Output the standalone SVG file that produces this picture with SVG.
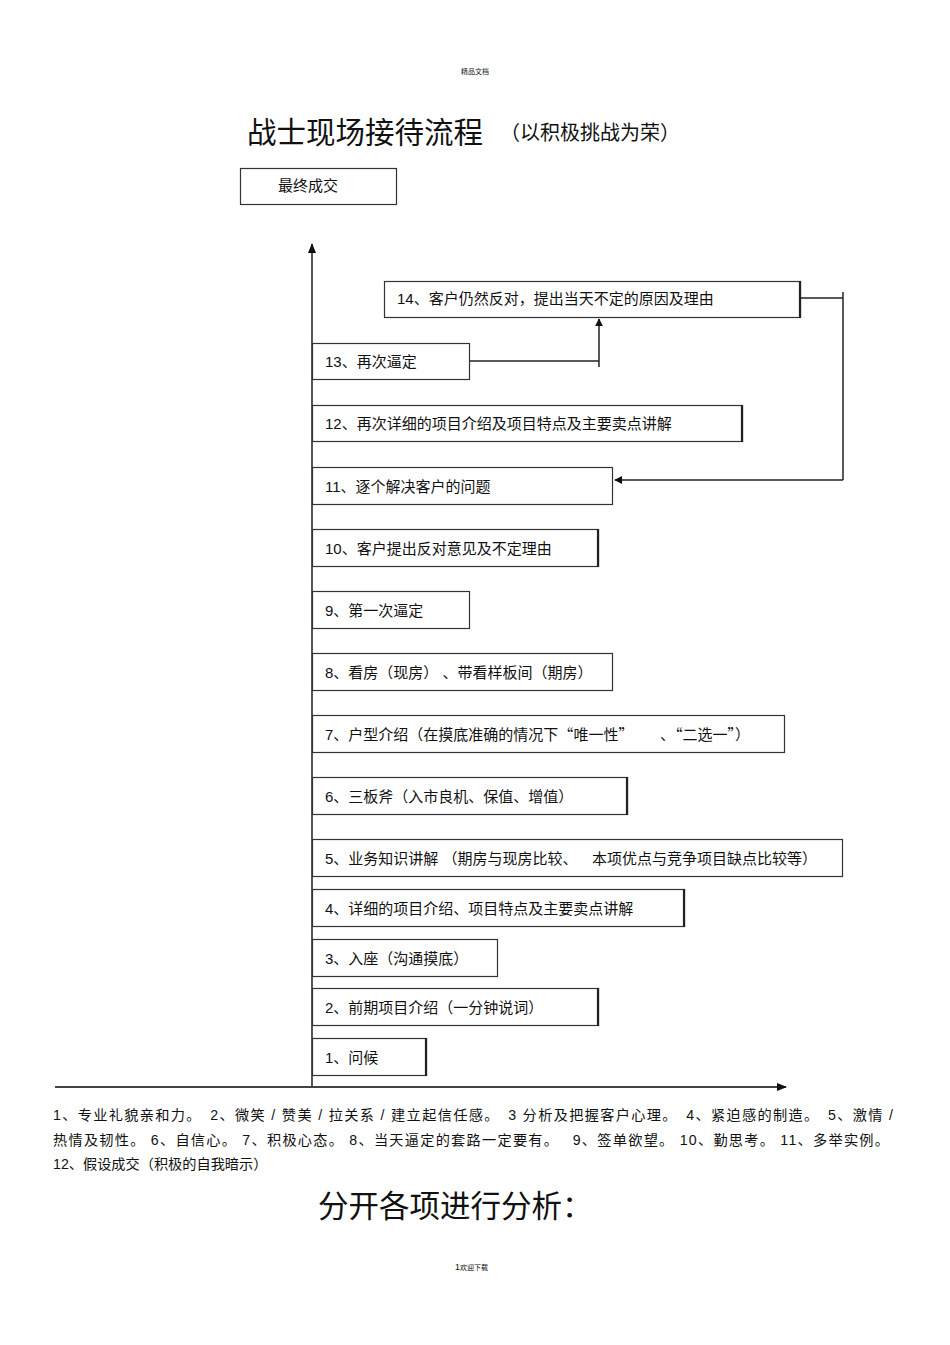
<svg xmlns="http://www.w3.org/2000/svg" width="950" height="1345" viewBox="0 0 950 1345">
<style>
text{font-family:"Liberation Sans","Noto Sans CJK SC",sans-serif;fill:#111}
.b{fill:#fff;stroke:#333;stroke-width:1.2}
.r{stroke:#222;stroke-width:2.2}
.t{font-size:15px}
.q{font-family:"Noto Sans CJK SC",sans-serif}
.ln{stroke:#222;stroke-width:1.5;fill:none}
.ax{stroke:#444;stroke-width:1.8;fill:none}
.n{font-size:14.2px}
</style>
<defs>
<marker id="ah" viewBox="0 0 10 10" refX="9" refY="5" markerWidth="8" markerHeight="8" markerUnits="userSpaceOnUse" orient="auto"><path d="M0,0L10,5L0,10z" fill="#111"/></marker>
<marker id="ah2" viewBox="0 0 10 10" refX="9" refY="5" markerWidth="10" markerHeight="10" markerUnits="userSpaceOnUse" orient="auto"><path d="M0,1L10,5L0,9z" fill="#111"/></marker>
</defs>
<rect width="950" height="1345" fill="#fff"/>
<text x="475" y="74" font-size="7" text-anchor="middle">精品文档</text>
<text x="247" y="143" font-size="29.5">战士现场接待流程</text>
<text x="500" y="140" font-size="20">（以积极挑战为荣）</text>

<g id="connectors">
<line class="ax" x1="312" y1="1088" x2="312" y2="244" marker-end="url(#ah2)"/>
<line class="ax" x1="55" y1="1087" x2="786" y2="1087" marker-end="url(#ah2)"/>
<polyline class="ln" points="470,361 599,361"/>
<line class="ln" x1="599" y1="367" x2="599" y2="319" marker-end="url(#ah)"/>
<polyline class="ln" points="801,298 843,298"/>
<line class="ln" x1="843" y1="292" x2="843" y2="480"/>
<line class="ln" x1="843" y1="480" x2="615" y2="480" marker-end="url(#ah)"/>
</g>

<g id="n-final"><rect class="b" x="240.5" y="168.5" width="156" height="36"/><text class="t" x="278" y="191">最终成交</text></g>
<g id="n14"><rect class="b" x="384.5" y="281.5" width="416" height="36"/><line class="r" x1="800" y1="281" x2="800" y2="318"/><text class="t" x="397" y="304">14、客户仍然反对，提出当天不定的原因及理由</text></g>
<g id="n13"><rect class="b" x="312.5" y="343.5" width="157" height="36"/><text class="t" x="325" y="367">13、再次逼定</text></g>
<g id="n12"><rect class="b" x="312.5" y="405.5" width="430" height="36"/><line class="r" x1="742" y1="405" x2="742" y2="442"/><text class="t" x="325" y="429">12、再次详细的项目介绍及项目特点及主要卖点讲解</text></g>
<g id="n11"><rect class="b" x="312.5" y="467.5" width="300" height="37"/><text class="t" x="325" y="492">11、逐个解决客户的问题</text></g>
<g id="n10"><rect class="b" x="312.5" y="529.5" width="286" height="37"/><line class="r" x1="598" y1="529" x2="598" y2="567"/><text class="t" x="325" y="554">10、客户提出反对意见及不定理由</text></g>
<g id="n9"><rect class="b" x="312.5" y="591.5" width="157" height="37"/><text class="t" x="325" y="616">9、第一次逼定</text></g>
<g id="n8"><rect class="b" x="312.5" y="653.5" width="300" height="37"/><text class="t" x="325" y="678">8、看房（现房） 、带看样板间（期房）</text></g>
<g id="n7"><rect class="b" x="312.5" y="715.5" width="472" height="37"/><text class="t" x="325" y="740">7、户型介绍（在摸底准确的情况下<tspan class="q">“</tspan>唯一性<tspan class="q">”</tspan></text><text class="t" x="660" y="740">、<tspan class="q">“</tspan>二选一<tspan class="q">”</tspan>）</text></g>
<g id="n6"><rect class="b" x="312.5" y="777.5" width="315" height="37"/><line class="r" x1="627" y1="777" x2="627" y2="815"/><text class="t" x="325" y="802">6、三板斧（入市良机、保值、增值）</text></g>
<g id="n5"><rect class="b" x="312.5" y="839.5" width="530" height="37"/><text class="t" x="325" y="864">5、业务知识讲解 （期房与现房比较、</text><text class="t" x="592" y="864">本项优点与竞争项目缺点比较等）</text></g>
<g id="n4"><rect class="b" x="312.5" y="889.5" width="372" height="37"/><line class="r" x1="684" y1="889" x2="684" y2="927"/><text class="t" x="325" y="914">4、详细的项目介绍、项目特点及主要卖点讲解</text></g>
<g id="n3"><rect class="b" x="312.5" y="939.5" width="185" height="37"/><text class="t" x="325" y="964">3、入座（沟通摸底）</text></g>
<g id="n2"><rect class="b" x="312.5" y="988.5" width="286" height="37"/><line class="r" x1="598" y1="988" x2="598" y2="1026"/><text class="t" x="325" y="1013">2、前期项目介绍（一分钟说词）</text></g>
<g id="n1"><rect class="b" x="312.5" y="1038.5" width="114" height="37"/><line class="r" x1="426" y1="1038" x2="426" y2="1076"/><text class="t" x="325" y="1063">1、问候</text></g>

<text class="n" x="53" y="1120" textLength="840" lengthAdjust="spacing">1、专业礼貌亲和力。　2、微笑 / 赞美 / 拉关系 / 建立起信任感。　3  分析及把握客户心理。　4、紧迫感的制造。　5、激情 /</text>
<text class="n" x="53" y="1145" textLength="836" lengthAdjust="spacing">热情及韧性。 6、自信心。 7、积极心态。 8、当天逼定的套路一定要有。　 9、签单欲望。 10、勤思考。 11、多举实例。</text>
<text class="n" x="53" y="1169">12、假设成交（积极的自我暗示）</text>
<text x="318" y="1217" font-size="30.5">分开各项进行分析：</text>
<text x="455" y="1270" font-size="9">1<tspan font-size="7">欢迎下载</tspan></text>
</svg>
